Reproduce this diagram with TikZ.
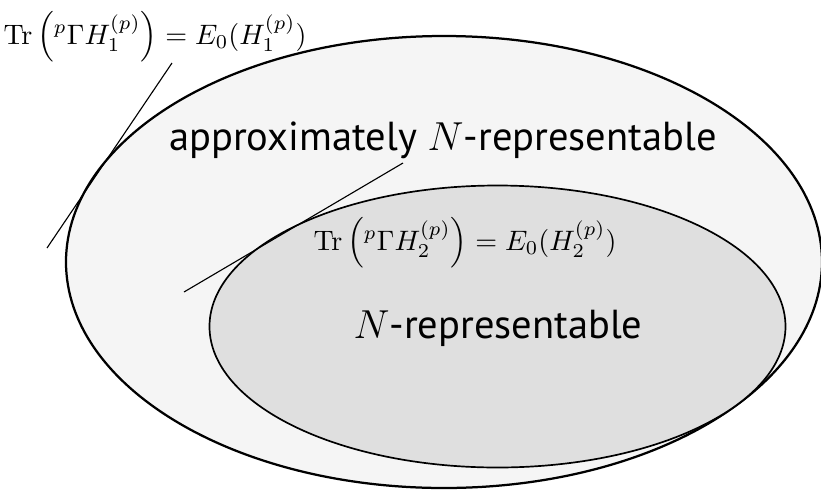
\documentclass[tikz,border=0pt]{standalone}
\usepackage{amsmath,amssymb}
\usepackage[no-math]{fontspec}
\setmainfont{PT Sans}
\usetikzlibrary{positioning,calc}

\begin{document}
\begin{tikzpicture}[
    outerset/.style={draw, thick, fill=gray!8},
    innerset/.style={draw, semithick, fill=gray!25},
    tangent/.style={thin},
    setname/.style={font=\Large, anchor=base}]
  \useasboundingbox (0,0) rectangle (10.2625,6.1625);
  % the two sets
  \coordinate (oc) at (5.55,2.8875);
  \coordinate (ic) at (6.21875,2.08125);
  \draw[outerset] (oc) ellipse (4.725 and 2.825);
  \draw[innerset] (ic) ellipse (3.6 and 1.7625);
  \node[setname] (approx) at (5.5375,4.2875) {approximately $N$-representable};
  \node[setname] (exact) at (6.225,1.9375) {$N$-representable};
  % supporting hyperplanes
  \coordinate (t1a) at (0.5875,3.0625);
  \coordinate (t1b) at (2.15,5.375);
  \coordinate (t2a) at (2.3,2.5125);
  \coordinate (t2b) at (5.0375,4.125);
  \draw[tangent] (t1a) -- (t1b);
  \draw[tangent] (t2a) -- (t2b);
  \node (plane1) at (1.9375,5.7)
       {$\mathrm{Tr}\left({}^{p}\Gamma H_1^{(p)}\right) = E_0(H_1^{(p)})$};
  \node (plane2) at (5.8125,3.125)
       {$\mathrm{Tr}\left({}^{p}\Gamma H_2^{(p)}\right) = E_0(H_2^{(p)})$};
\end{tikzpicture}
\end{document}
